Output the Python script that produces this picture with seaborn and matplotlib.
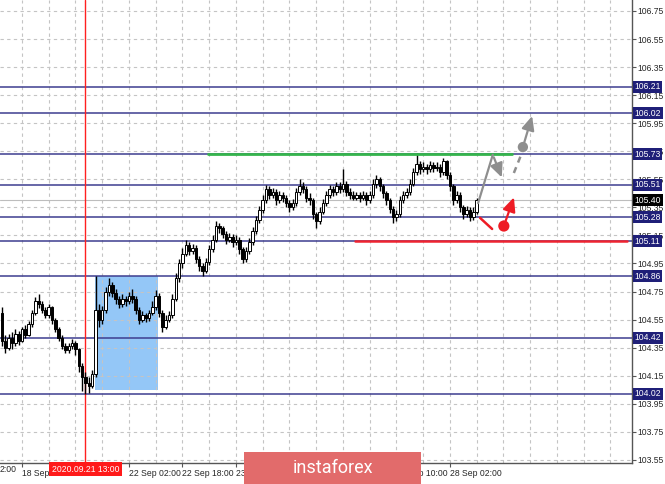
import matplotlib
matplotlib.use("Agg")
import numpy as np
import pandas as pd
import matplotlib.pyplot as plt
import matplotlib.transforms as mtransforms
from matplotlib.patches import Rectangle, FancyArrowPatch
import seaborn as sns

# H1 bars, 18 Sep -> 28 Sep 2020
first_open = 104.60
closes = [
    104.40, 104.35, 104.42, 104.38, 104.45, 104.40, 104.48, 104.44, 104.52, 104.60,
    104.68, 104.66, 104.62, 104.58, 104.64, 104.55, 104.48, 104.42, 104.36, 104.33,
    104.36, 104.38, 104.34, 104.22, 104.14, 104.10, 104.08, 104.16, 104.62, 104.55,
    104.62, 104.75, 104.80, 104.74, 104.70, 104.66, 104.70, 104.68, 104.72, 104.70,
    104.62, 104.55, 104.58, 104.56, 104.60, 104.64, 104.72, 104.60, 104.50, 104.55,
    104.58, 104.70, 104.85, 104.95, 105.02, 105.08, 105.04, 105.06, 104.98, 104.93,
    104.90, 104.96, 105.05, 105.12, 105.22, 105.20, 105.16, 105.12, 105.14, 105.10,
    105.12, 105.05, 104.98, 105.04, 105.10, 105.18, 105.26, 105.33, 105.40, 105.48,
    105.44, 105.46, 105.40, 105.44, 105.42, 105.38, 105.35, 105.38, 105.46, 105.50,
    105.48, 105.42, 105.40, 105.30, 105.25, 105.32, 105.38, 105.44, 105.48, 105.46,
    105.50, 105.48, 105.52, 105.46, 105.44, 105.42, 105.44, 105.42, 105.44, 105.40,
    105.44, 105.52, 105.55, 105.50, 105.45, 105.40, 105.34, 105.28, 105.30, 105.40,
    105.44, 105.46, 105.52, 105.60, 105.66, 105.62, 105.64, 105.62, 105.65, 105.63,
    105.64, 105.60, 105.68, 105.58, 105.50, 105.40, 105.44, 105.35, 105.30, 105.33,
    105.28, 105.32, 105.40]
highs = [
    104.64, 104.44, 104.45, 104.46, 104.48, 104.47, 104.50, 104.51, 104.54, 104.62,
    104.71, 104.73, 104.68, 104.64, 104.66, 104.65, 104.56, 104.50, 104.44, 104.38,
    104.38, 104.41, 104.40, 104.35, 104.24, 104.18, 104.14, 104.19, 104.86, 104.66,
    104.65, 104.78, 104.85, 104.82, 104.77, 104.72, 104.73, 104.72, 104.75, 104.77,
    104.72, 104.64, 104.61, 104.60, 104.62, 104.68, 104.76, 104.74, 104.62, 104.58,
    104.61, 104.73, 104.88, 104.98, 105.06, 105.12, 105.10, 105.09, 105.08, 105.00,
    104.95, 104.99, 105.08, 105.15, 105.25, 105.24, 105.22, 105.18, 105.17, 105.16,
    105.15, 105.14, 105.07, 105.07, 105.13, 105.21, 105.29, 105.36, 105.44, 105.51,
    105.50, 105.49, 105.48, 105.47, 105.46, 105.44, 105.40, 105.41, 105.49, 105.55,
    105.53, 105.50, 105.45, 105.42, 105.32, 105.35, 105.41, 105.47, 105.51, 105.50,
    105.53, 105.53, 105.62, 105.54, 105.49, 105.47, 105.46, 105.46, 105.47, 105.46,
    105.47, 105.55, 105.58, 105.57, 105.52, 105.47, 105.42, 105.36, 105.33, 105.43,
    105.47, 105.49, 105.55, 105.63, 105.74, 105.68, 105.67, 105.66, 105.68, 105.67,
    105.67, 105.66, 105.70, 105.69, 105.60, 105.52, 105.47, 105.46, 105.37, 105.36,
    105.35, 105.35, 105.42]
lows = [
    104.36, 104.31, 104.33, 104.34, 104.36, 104.37, 104.39, 104.42, 104.43, 104.50,
    104.58, 104.63, 104.60, 104.56, 104.56, 104.52, 104.46, 104.40, 104.34, 104.31,
    104.31, 104.34, 104.30, 104.18, 104.04, 104.02, 104.03, 104.06, 104.14, 104.50,
    104.52, 104.60, 104.72, 104.71, 104.66, 104.63, 104.64, 104.65, 104.66, 104.67,
    104.59, 104.52, 104.53, 104.53, 104.54, 104.58, 104.62, 104.57, 104.46, 104.48,
    104.53, 104.56, 104.68, 104.82, 104.92, 105.00, 105.01, 105.02, 104.95, 104.90,
    104.86, 104.88, 104.94, 105.03, 105.10, 105.17, 105.13, 105.09, 105.10, 105.07,
    105.08, 105.02, 104.95, 104.96, 105.02, 105.08, 105.16, 105.24, 105.31, 105.38,
    105.41, 105.42, 105.37, 105.38, 105.39, 105.35, 105.32, 105.33, 105.36, 105.44,
    105.45, 105.39, 105.37, 105.27, 105.20, 105.23, 105.30, 105.36, 105.42, 105.43,
    105.44, 105.45, 105.46, 105.43, 105.41, 105.40, 105.40, 105.39, 105.40, 105.37,
    105.38, 105.42, 105.49, 105.47, 105.42, 105.37, 105.31, 105.24, 105.25, 105.28,
    105.38, 105.42, 105.44, 105.50, 105.58, 105.59, 105.60, 105.59, 105.60, 105.60,
    105.61, 105.57, 105.58, 105.55, 105.47, 105.37, 105.38, 105.32, 105.27, 105.28,
    105.25, 105.26, 105.30]

# levels drawn on the chart
levels = [106.21, 106.02, 105.73, 105.51, 105.28, 105.11, 104.86, 104.42, 104.02]
current_price = 105.40
price_ticks = [103.55, 103.75, 103.95, 104.15, 104.35, 104.55, 104.75, 104.95,
               105.15, 105.35, 105.55, 105.75, 105.95, 106.15, 106.35, 106.55, 106.75]
# labels under the watermark / date marker are not visible, keep only the tick
time_tick_bars = [6, 22, 38, 54, 70, 86, 102, 118, 134]
time_tick_labels = ["18 Sep 18:00", "", "22 Sep 02:00", "22 Sep 18:00", "23 Sep 10:00",
                    "", "", "25 Sep 10:00", "28 Sep 02:00"]
marker_bar = 25
marker_label = "2020.09.21 13:00"

# annotations (bar index, price)
box_bars = [27.8, 46.7]
box_prices = [104.05, 104.86]
green_bars = [61.6, 152.5]
red_bars = [105.6, 187.0]
gray_zig_bars = [142.4, 146.8, 149.8]
gray_zig_prices = [105.38, 105.725, 105.545]
gray_dash_bars = [153.1, 155.2]
gray_dash_prices = [105.595, 105.72]
gray_dot = (155.8, 105.78)
gray_arrow_end = (158.8, 106.02)
red_tick_bars = [143.0, 146.6]
red_tick_prices = [105.275, 105.196]
red_dot = (150.1, 105.217)
red_arrow_end = (153.4, 105.44)

df = pd.DataFrame({"close": closes, "high": highs, "low": lows})
df["open"] = [first_open] + closes[:-1]
df["bar"] = np.arange(len(df))

sns.set_style("white")
plt.rcParams["font.family"] = ["Liberation Sans", "DejaVu Sans"]

W, H = 665, 484
fig = plt.figure(figsize=(W / 100, H / 100), dpi=100)
ax = fig.add_axes([0, (H - 463) / H, 632 / W, 463 / H])
ax.set_xlim(-0.568, 188.43)
ax.set_ylim(103.528, 106.828)

grid_col = "#c4c4c4"
for p in price_ticks:
    ax.axhline(p, color=grid_col, lw=0.8, ls=(0, (3, 3)), zorder=1)
for b in range(6, 183, 8):
    ax.axvline(b, color=grid_col, lw=0.8, ls=(0, (3, 3)), zorder=1)

# blue box
ax.add_patch(Rectangle((box_bars[0], box_prices[0]), box_bars[1] - box_bars[0],
                       box_prices[1] - box_prices[0], facecolor="#94c7f7",
                       edgecolor="none", zorder=0.5))

ax.axhline(current_price, color="#bdbdbd", lw=0.8, zorder=1.5)
for lv in levels:
    ax.axhline(lv, color="#3d3d8f", lw=1.1, zorder=2)

ax.axvline(marker_bar, color="#ff2020", lw=1.0, zorder=2.5)

# candles
ax.vlines(df["bar"], df["low"], df["high"], color="black", lw=1.0, zorder=3)
up = df["close"] >= df["open"]
body_bot = df[["open", "close"]].min(axis=1)
body_h = (df["close"] - df["open"]).abs().clip(lower=0.006)
ax.bar(df["bar"][up], body_h[up], bottom=body_bot[up], width=0.75,
       color="white", edgecolor="black", lw=0.7, zorder=3.2)
ax.bar(df["bar"][~up], body_h[~up], bottom=body_bot[~up], width=0.75,
       color="black", edgecolor="black", lw=0.7, zorder=3.2)

ax.plot(green_bars, [105.73, 105.73], color="#35b44c", lw=2.0, zorder=4)
ax.plot(red_bars, [105.11, 105.11], color="#ee2430", lw=1.8, zorder=4)

# scenario sketches
gray = "#8e8e8e"
ax.plot(gray_zig_bars[:2], gray_zig_prices[:2], color=gray, lw=1.6, zorder=5,
        solid_capstyle="round")
ax.add_patch(FancyArrowPatch((gray_zig_bars[1], gray_zig_prices[1]),
                             (gray_zig_bars[2], gray_zig_prices[2]),
                             arrowstyle="-|>,head_length=0.7,head_width=0.32",
                             mutation_scale=12, color=gray, lw=1.6, zorder=5))
ax.plot(gray_dash_bars, gray_dash_prices, color=gray, lw=1.8, ls=(0, (2.5, 2)), zorder=5)
ax.add_patch(FancyArrowPatch(gray_dot, gray_arrow_end,
                             arrowstyle="-|>,head_length=0.7,head_width=0.32",
                             mutation_scale=12, color=gray, lw=1.6, zorder=5))
sns.scatterplot(x=[gray_dot[0]], y=[gray_dot[1]], s=55, color=gray,
                edgecolor="none", ax=ax, zorder=6, legend=False)

red = "#ee1c25"
ax.plot(red_tick_bars, red_tick_prices, color=red, lw=1.8, zorder=5)
ax.add_patch(FancyArrowPatch(red_dot, red_arrow_end,
                             arrowstyle="-|>,head_length=0.7,head_width=0.32",
                             mutation_scale=12, color=red, lw=1.6, zorder=5))
sns.scatterplot(x=[red_dot[0]], y=[red_dot[1]], s=65, color=red,
                edgecolor="none", ax=ax, zorder=6, legend=False)

# axes frame and ticks
for s in ["left", "top"]:
    ax.spines[s].set_visible(False)
for s in ["right", "bottom"]:
    ax.spines[s].set_color("#555555")
    ax.spines[s].set_linewidth(1.0)
ax.yaxis.tick_right()
ax.set_yticks(price_ticks)
ax.set_yticklabels([f"{p:.2f}" for p in price_ticks])
ax.tick_params(axis="y", direction="out", length=3, width=0.8, color="#555555",
               labelsize=6.2, pad=1.2, right=True, left=False)
ax.set_xticks(time_tick_bars)
ax.set_xticklabels(time_tick_labels)
ax.tick_params(axis="x", direction="out", length=3, width=0.8, color="#555555",
               labelsize=6.2, pad=1.5, bottom=True)
for lab in ax.get_xticklabels():
    lab.set_horizontalalignment("left")
ax.set_xlabel("")
ax.set_ylabel("")

ax.text(0.0, -0.004, "2:00", transform=ax.transAxes, ha="left", va="top", fontsize=6.2)

# price labels on the right scale
blend = mtransforms.blended_transform_factory(ax.transAxes, ax.transData)
for lv in levels:
    ax.text(1.004, lv, f"{lv:.2f}", transform=blend, ha="left", va="center",
            fontsize=6.2, color="white", zorder=10, clip_on=False,
            bbox=dict(boxstyle="square,pad=0.18", fc="#1f1f78", ec="none"))
ax.text(1.004, current_price, f"{current_price:.2f}", transform=blend, ha="left",
        va="center", fontsize=6.2, color="white", zorder=11, clip_on=False,
        bbox=dict(boxstyle="square,pad=0.18", fc="black", ec="none"))

# red time marker label
blend_x = mtransforms.blended_transform_factory(ax.transData, ax.transAxes)
ax.text(marker_bar, -0.004, marker_label, transform=blend_x, ha="center", va="top",
        fontsize=6.2, color="white", zorder=10, clip_on=False,
        bbox=dict(boxstyle="square,pad=0.3", fc="#ff1a1a", ec="none"))

# watermark
fig.add_artist(Rectangle((244 / W, 0), 177 / W, 32 / H, transform=fig.transFigure,
                         facecolor="#e26b6b", edgecolor="none", zorder=20))
fig.text(332.5 / W, 16 / H, "instaforex", ha="center", va="center", fontsize=13,
         color="white", family=["Roboto", "DejaVu Sans"], zorder=21)

fig.savefig("out.png", dpi=100)
